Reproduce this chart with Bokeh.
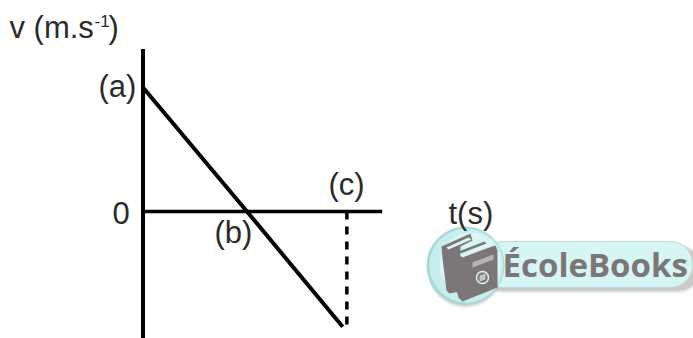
from bokeh.plotting import figure
from bokeh.models import Range1d
from bokeh.embed import file_html
from bokeh.resources import INLINE
from bokeh.core.properties import value

# chart values, in schematic units of time and velocity
line_t = [0.0, 1.0, 1.92]
line_v = [1.0, 0.0, -0.93]
t_axis = [0.0, 2.3]
v_axis = [1.31, -1.03]
zero = [0.0, 0.0]
c_t = [1.96, 1.96]
c_v = [0.0, -0.93]

W, H = 693, 338
X0, XS, Y0, YS = 142.5, 104, 211, 124

p = figure(width=W, height=H, output_backend="svg", toolbar_location=None,
           x_range=Range1d((0 - X0) / XS, (W - X0) / XS),
           y_range=Range1d((Y0 - H) / YS, Y0 / YS),
           min_border=0, outline_line_color=None)
p.xaxis.visible = False
p.yaxis.visible = False
p.grid.visible = False
p.extra_x_ranges["px"] = Range1d(0, W)
p.extra_y_ranges["px"] = Range1d(H, 0)

PX = dict(x_range_name="px", y_range_name="px")

def poly(xs, ys, color, **kw):
    p.patch(xs, ys, fill_color=color, line_color=None, **PX, **kw)

def label(x, y, s, size=31, color="#2B2B2B", font="Liberation Sans", style="normal"):
    p.text([x], [y - 0.33 * size], text=[s], text_font=value(font), text_font_size=f"{size}px",
           text_color=color, text_baseline="alphabetic", text_font_style=style, **PX)

# logo: soft shadow, pill, disc
for off, a in ((5, 0.10), (3.5, 0.14), (2, 0.2)):
    p.quad(left=[480], right=[700], top=[242 + off], bottom=[288 + off], fill_color="#777777",
           fill_alpha=a, line_color=None, border_radius=22, **PX)
    p.circle([465], [265 + off], radius=38, fill_color="#777777", fill_alpha=a, line_color=None, **PX)
p.quad(left=[480], right=[692], top=[241], bottom=[287], fill_color="#D6F5F5",
       line_color="#C4D8D8", line_width=1, border_radius=22, **PX)
p.circle([465], [265], radius=39, fill_color="#A9D8DB", line_color=None, **PX)
p.circle([466], [265], radius=37, fill_color="#C6EEEF", line_color=None, **PX)
p.circle([470], [263], radius=31, fill_color="#D8F6F6", line_color=None, **PX)

# logo: books
poly([441, 470, 472, 460, 459, 449, 446, 442], [246, 233, 240, 246, 291, 293, 290, 258], "#7D7676")
poly([446, 468, 471, 448], [247, 237, 239, 249], "#D8F6F6")
poly([456, 495, 497, 497, 462, 458, 456], [257, 245, 250, 287, 301, 297, 290], "#7D7676")
poly([458, 484, 486, 460], [251, 241, 243, 253], "#7D7676")
poly([460, 486, 491, 462], [255, 245, 246, 257], "#D8F6F6")
poly([472, 493, 493, 472], [262, 254, 259, 267], "#B9B3B3")
p.circle([482], [277], radius=6, fill_color="#7D7676", line_color="#D8F6F6", line_width=1.5, **PX)
poly([479, 485, 485, 479], [275, 273, 279, 281], "#C8C4C4")

label(502, 275, "ÉcoleBooks", 33, "#7D7676", "Open Sans", "bold")

# chart marks
p.line(c_t, c_v, line_color="black", line_width=3.5, line_dash="8 7")
p.line(t_axis, zero, line_color="black", line_width=3.5)
p.line([0, 0], v_axis, line_color="black", line_width=4)
p.line(line_t, line_v, line_color="black", line_width=4)

# texts
label(9, 37, "v (m.s")
label(94, 26, "-1", 17)
label(108, 37, ")")
label(98, 96, "(a)")
label(112, 223, "0")
label(214, 242, "(b)")
label(328, 194, "(c)")
label(448, 223, "t(s)")

open("out.html", "w").write(file_html(p, INLINE))
